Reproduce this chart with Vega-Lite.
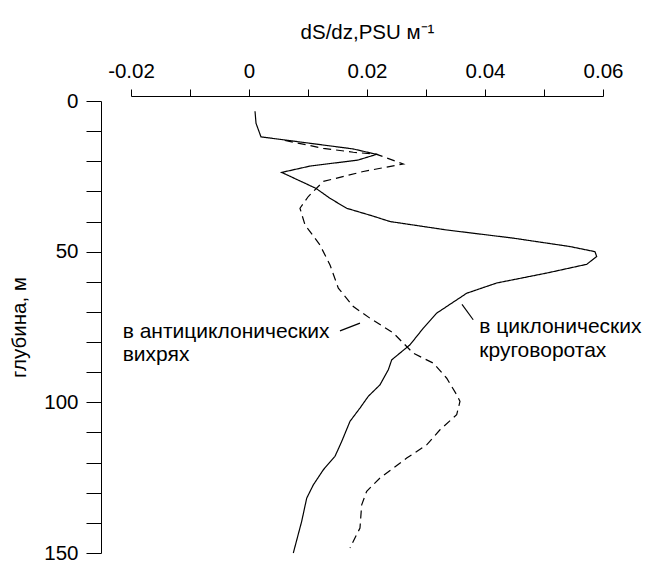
{
  "$schema": "https://vega.github.io/schema/vega-lite/v6.json",
  "width": 472,
  "height": 452,
  "autosize": "none",
  "padding": {"left": 131, "top": 101, "right": 43, "bottom": 10},
  "background": "white",
  "config": {
    "view": {"stroke": null},
    "font": "Liberation Sans",
    "axis": {"grid": false, "domainColor": "black", "tickColor": "black", "labelColor": "black", "titleColor": "black", "labelFont": "Liberation Sans", "titleFont": "Liberation Sans", "labelFontSize": 20.5, "titleFontSize": 20.5, "titleFontWeight": "normal", "domainWidth": 1, "tickWidth": 1}
  },
  "datasets": {
    "curves": [
      {"s": "cyc", "i": 1, "v": 0.00102, "d": 3.4},
      {"s": "cyc", "i": 2, "v": 0.00119, "d": 7.4},
      {"s": "cyc", "i": 3, "v": 0.00203, "d": 11.9},
      {"s": "cyc", "i": 4, "v": 0.01763, "d": 15.9},
      {"s": "cyc", "i": 5, "v": 0.02164, "d": 17.7},
      {"s": "cyc", "i": 6, "v": 0.01847, "d": 19.6},
      {"s": "cyc", "i": 7, "v": 0.01034, "d": 21.6},
      {"s": "cyc", "i": 8, "v": 0.00554, "d": 23.7},
      {"s": "cyc", "i": 9, "v": 0.01136, "d": 29.0},
      {"s": "cyc", "i": 10, "v": 0.01373, "d": 32.3},
      {"s": "cyc", "i": 11, "v": 0.01656, "d": 35.6},
      {"s": "cyc", "i": 12, "v": 0.02102, "d": 38.2},
      {"s": "cyc", "i": 13, "v": 0.02390, "d": 40.0},
      {"s": "cyc", "i": 14, "v": 0.03351, "d": 42.8},
      {"s": "cyc", "i": 15, "v": 0.04475, "d": 45.5},
      {"s": "cyc", "i": 16, "v": 0.05441, "d": 48.3},
      {"s": "cyc", "i": 17, "v": 0.05864, "d": 50.0},
      {"s": "cyc", "i": 18, "v": 0.05893, "d": 51.6},
      {"s": "cyc", "i": 19, "v": 0.05724, "d": 54.2},
      {"s": "cyc", "i": 20, "v": 0.05046, "d": 57.1},
      {"s": "cyc", "i": 21, "v": 0.04198, "d": 60.4},
      {"s": "cyc", "i": 22, "v": 0.03690, "d": 63.8},
      {"s": "cyc", "i": 23, "v": 0.03181, "d": 70.4},
      {"s": "cyc", "i": 24, "v": 0.02954, "d": 75.4},
      {"s": "cyc", "i": 25, "v": 0.02729, "d": 80.9},
      {"s": "cyc", "i": 26, "v": 0.02419, "d": 85.9},
      {"s": "cyc", "i": 27, "v": 0.02361, "d": 89.2},
      {"s": "cyc", "i": 28, "v": 0.02220, "d": 94.2},
      {"s": "cyc", "i": 29, "v": 0.02022, "d": 98.0},
      {"s": "cyc", "i": 30, "v": 0.01881, "d": 101.9},
      {"s": "cyc", "i": 31, "v": 0.01712, "d": 106.3},
      {"s": "cyc", "i": 32, "v": 0.01571, "d": 113.0},
      {"s": "cyc", "i": 33, "v": 0.01458, "d": 117.9},
      {"s": "cyc", "i": 34, "v": 0.01259, "d": 122.4},
      {"s": "cyc", "i": 35, "v": 0.01090, "d": 127.4},
      {"s": "cyc", "i": 36, "v": 0.00978, "d": 131.8},
      {"s": "cyc", "i": 37, "v": 0.00893, "d": 139.5},
      {"s": "cyc", "i": 38, "v": 0.00751, "d": 150.0},
      {"s": "anti", "i": 1, "v": 0.0061, "d": 13.1},
      {"s": "anti", "i": 2, "v": 0.01259, "d": 15.7},
      {"s": "anti", "i": 3, "v": 0.01768, "d": 17.0},
      {"s": "anti", "i": 4, "v": 0.02164, "d": 17.7},
      {"s": "anti", "i": 5, "v": 0.02615, "d": 20.9},
      {"s": "anti", "i": 6, "v": 0.01937, "d": 23.4},
      {"s": "anti", "i": 7, "v": 0.01259, "d": 26.7},
      {"s": "anti", "i": 8, "v": 0.01005, "d": 31.7},
      {"s": "anti", "i": 9, "v": 0.00864, "d": 35.6},
      {"s": "anti", "i": 10, "v": 0.00949, "d": 41.1},
      {"s": "anti", "i": 11, "v": 0.01203, "d": 47.8},
      {"s": "anti", "i": 12, "v": 0.01373, "d": 54.4},
      {"s": "anti", "i": 13, "v": 0.01514, "d": 62.1},
      {"s": "anti", "i": 14, "v": 0.01768, "d": 68.2},
      {"s": "anti", "i": 15, "v": 0.02051, "d": 72.1},
      {"s": "anti", "i": 16, "v": 0.02446, "d": 77.0},
      {"s": "anti", "i": 17, "v": 0.02785, "d": 83.7},
      {"s": "anti", "i": 18, "v": 0.03124, "d": 87.0},
      {"s": "anti", "i": 19, "v": 0.03351, "d": 92.0},
      {"s": "anti", "i": 20, "v": 0.03520, "d": 97.5},
      {"s": "anti", "i": 21, "v": 0.03576, "d": 99.7},
      {"s": "anti", "i": 22, "v": 0.03520, "d": 104.1},
      {"s": "anti", "i": 23, "v": 0.03237, "d": 109.1},
      {"s": "anti", "i": 24, "v": 0.03012, "d": 114.1},
      {"s": "anti", "i": 25, "v": 0.02673, "d": 118.5},
      {"s": "anti", "i": 26, "v": 0.02220, "d": 125.1},
      {"s": "anti", "i": 27, "v": 0.01995, "d": 129.5},
      {"s": "anti", "i": 28, "v": 0.01910, "d": 134.0},
      {"s": "anti", "i": 29, "v": 0.01881, "d": 141.7},
      {"s": "anti", "i": 30, "v": 0.01712, "d": 148.3}
    ],
    "leaders": [
      {"v": 0.01542, "d": 76.3, "v2": 0.01881, "d2": 73.7},
      {"v": 0.0361, "d": 67.5, "v2": 0.0380, "d2": 72.6}
    ],
    "labels": [
      {"t": "в антициклонических", "v": -0.02141, "d": 78.6},
      {"t": "вихрях", "v": -0.02141, "d": 86.4},
      {"t": "в циклонических", "v": 0.03903, "d": 77.0},
      {"t": "круговоротах", "v": 0.03903, "d": 84.8}
    ]
  },
  "encoding": {
    "x": {
      "field": "v", "type": "quantitative",
      "scale": {"domain": [-0.02, 0.06], "nice": false, "zero": false},
      "axis": {
        "orient": "top", "offset": 5, "title": "dS/dz,PSU м⁻¹",
        "values": [-0.02, -0.01, 0, 0.01, 0.02, 0.03, 0.04, 0.05, 0.06],
        "labelExpr": "abs(round(datum.value*100)) % 2 == 0 ? '' + datum.value : ''",
        "tickSize": 7, "labelPadding": 8, "titlePadding": 19, "labelFlush": false, "labelOverlap": false
      }
    },
    "y": {
      "field": "d", "type": "quantitative",
      "scale": {"domain": [0, 150], "reverse": true, "nice": false, "zero": false},
      "axis": {
        "orient": "left", "offset": 30, "title": "глубина, м",
        "values": [0, 10, 20, 30, 40, 50, 60, 70, 80, 90, 100, 110, 120, 130, 140, 150],
        "labelExpr": "datum.value % 50 == 0 ? datum.label : ''",
        "tickSize": 15, "labelPadding": 8, "titlePadding": 14, "labelFlush": false, "labelOverlap": false
      }
    }
  },
  "layer": [
    {
      "data": {"name": "curves"},
      "mark": {"type": "line", "color": "black", "strokeWidth": 1.2, "clip": false},
      "encoding": {
        "order": {"field": "i", "type": "quantitative"},
        "strokeDash": {
          "field": "s", "type": "nominal",
          "scale": {"domain": ["cyc", "anti"], "range": [[1, 0], [8, 5]]},
          "legend": null
        }
      }
    },
    {
      "data": {"name": "leaders"},
      "mark": {"type": "rule", "color": "black", "strokeWidth": 1.2},
      "encoding": {
        "x2": {"field": "v2"},
        "y2": {"field": "d2"}
      }
    },
    {
      "data": {"name": "labels"},
      "mark": {"type": "text", "align": "left", "baseline": "alphabetic", "font": "Liberation Sans", "fontSize": 21, "color": "black", "clip": false},
      "encoding": {
        "text": {"field": "t"}
      }
    }
  ]
}
